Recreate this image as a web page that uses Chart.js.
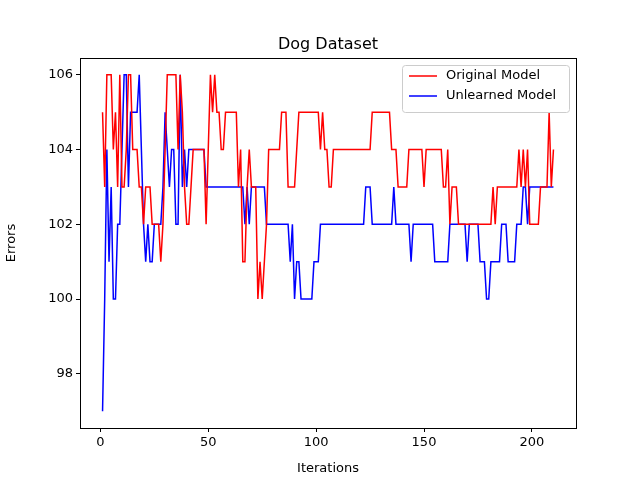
<!DOCTYPE html>
<html>
<head>
    <title>Dog Dataset</title>
    <script src="https://cdn.jsdelivr.net/npm/chart.js"></script>
    <style>
        body { margin: 0; background: #fff; }
        #wrap { width: 640px; height: 480px; }
    </style>
</head>
<body>
<div id="wrap"><canvas id="chart" width="640" height="480"></canvas></div>
<script>
const originalErrors = [
    105,103,106,106,106,104,105,103,106,103,
    103,104,106,106,104,104,104,103,103,102,
    103,103,103,102,102,102,102,101,102,104,
    106,106,106,106,106,104,106,105,103,102,
    102,103,104,104,104,104,104,104,102,104,
    106,105,106,105,105,104,104,105,105,105,
    105,105,105,103,104,101,101,103,104,103,
    103,103,100,101,100,101,102,104,104,104,
    104,104,104,105,105,105,103,103,103,103,
    104,105,105,105,105,105,105,105,105,105,
    105,104,105,104,104,103,103,104,104,104,
    104,104,104,104,104,104,104,104,104,104,
    104,104,104,104,104,105,105,105,105,105,
    105,105,105,105,104,104,104,103,103,103,
    103,103,104,104,104,104,104,104,104,103,
    104,104,104,104,104,104,104,104,103,103,
    104,102,103,103,103,102,102,102,102,102,
    102,102,102,102,102,102,102,102,102,102,
    102,103,102,103,103,103,103,103,103,103,
    103,103,103,104,103,104,103,104,102,102,
    102,102,102,103,103,103,103,105,103,104
];
const unlearnedErrors = [
    97,100,104,101,103,100,100,102,102,104,
    106,106,103,105,105,105,105,106,104,102,
    101,102,101,101,102,102,102,102,103,105,
    104,103,104,104,102,102,106,103,104,103,
    104,104,104,104,104,104,104,104,103,103,
    103,103,103,103,103,103,103,103,103,103,
    103,103,103,103,103,103,102,103,102,103,
    103,103,103,103,103,103,102,102,102,102,
    102,102,102,102,102,102,102,101,102,100,
    101,101,100,100,100,100,100,100,101,101,
    101,102,102,102,102,102,102,102,102,102,
    102,102,102,102,102,102,102,102,102,102,
    102,102,103,103,103,102,102,102,102,102,
    102,102,102,102,102,103,102,102,102,102,
    102,102,102,101,102,102,102,102,102,102,
    102,102,102,102,101,101,101,101,101,101,
    101,102,102,102,102,102,102,102,102,101,
    102,102,102,102,102,101,101,101,100,100,
    101,101,101,101,101,102,102,102,101,101,
    101,101,102,102,102,103,103,102,103,103,
    103,103,103,103,103,103,103,103,103,103
];
const xTicks = [0, 50, 100, 150, 200];
const yTicks = [98, 100, 102, 104, 106];
const seriesNames = ['Original Model', 'Unlearned Model'];
const seriesColors = ['#ff0000', '#0000ff'];

const font = { family: 'DejaVu Sans', size: 13 };

function toPoints(arr) {
    return arr.map((v, i) => ({ x: i + 1, y: v }));
}

// frame, title and legend drawn like matplotlib
const decor = {
    id: 'decor',
    afterDraw(chart) {
        const c = chart.ctx, a = chart.chartArea;
        c.save();
        c.strokeStyle = '#000';
        c.lineWidth = 1;
        c.strokeRect(a.left + 0.5, a.top + 0.5, a.right - a.left, a.bottom - a.top);
        c.fillStyle = '#000';
        c.font = '16px DejaVu Sans';
        c.textAlign = 'center';
        c.textBaseline = 'alphabetic';
        c.fillText('Dog Dataset', (a.left + a.right) / 2, 49);
        // legend box
        const lx = 402, ly = 65, lw = 167, lh = 47;
        c.fillStyle = 'rgba(255,255,255,0.8)';
        c.strokeStyle = '#cccccc';
        c.beginPath();
        c.roundRect(lx + 0.5, ly + 0.5, lw, lh, 3);
        c.fill();
        c.stroke();
        c.font = '13px DejaVu Sans';
        c.textAlign = 'left';
        c.textBaseline = 'middle';
        seriesNames.forEach((n, k) => {
            const yy = ly + 11 + k * 20;
            c.strokeStyle = seriesColors[k];
            c.lineWidth = 1.5;
            c.beginPath();
            c.moveTo(lx + 7, yy);
            c.lineTo(lx + 35, yy);
            c.stroke();
            c.fillStyle = '#000';
            c.fillText(n, lx + 44, yy);
        });
        c.restore();
    }
};

new Chart(document.getElementById('chart'), {
    type: 'line',
    data: {
        datasets: [
            { label: seriesNames[0], data: toPoints(originalErrors), borderColor: seriesColors[0], borderWidth: 1.5, pointRadius: 0, fill: false, tension: 0 },
            { label: seriesNames[1], data: toPoints(unlearnedErrors), borderColor: seriesColors[1], borderWidth: 1.5, pointRadius: 0, fill: false, tension: 0 }
        ]
    },
    options: {
        responsive: false,
        animation: false,
        layout: { padding: { top: 58, right: 64, left: 0, bottom: 0 } },
        plugins: { legend: { display: false }, title: { display: false }, tooltip: { enabled: false } },
        scales: {
            x: {
                type: 'linear', min: -9.45, max: 220.45,
                afterBuildTicks: s => { s.ticks = xTicks.map(v => ({ value: v })); },
                afterFit: s => { s.height = 52; },
                grid: { drawOnChartArea: false, tickLength: 4, color: '#000' },
                border: { display: false },
                ticks: { color: '#000', font: font, padding: 3, maxRotation: 0 },
                title: { display: true, text: 'Iterations', color: '#000', font: font, padding: { top: 2 } }
            },
            y: {
                min: 96.55, max: 106.45,
                afterBuildTicks: s => { s.ticks = yTicks.map(v => ({ value: v })); },
                afterFit: s => { s.width = 80; },
                grid: { drawOnChartArea: false, tickLength: 4, color: '#000' },
                border: { display: false },
                ticks: { color: '#000', font: font, padding: 3 },
                title: { display: true, text: 'Errors', color: '#000', font: font, padding: { bottom: 4 } }
            }
        }
    },
    plugins: [decor]
});
</script>
</body>
</html>
